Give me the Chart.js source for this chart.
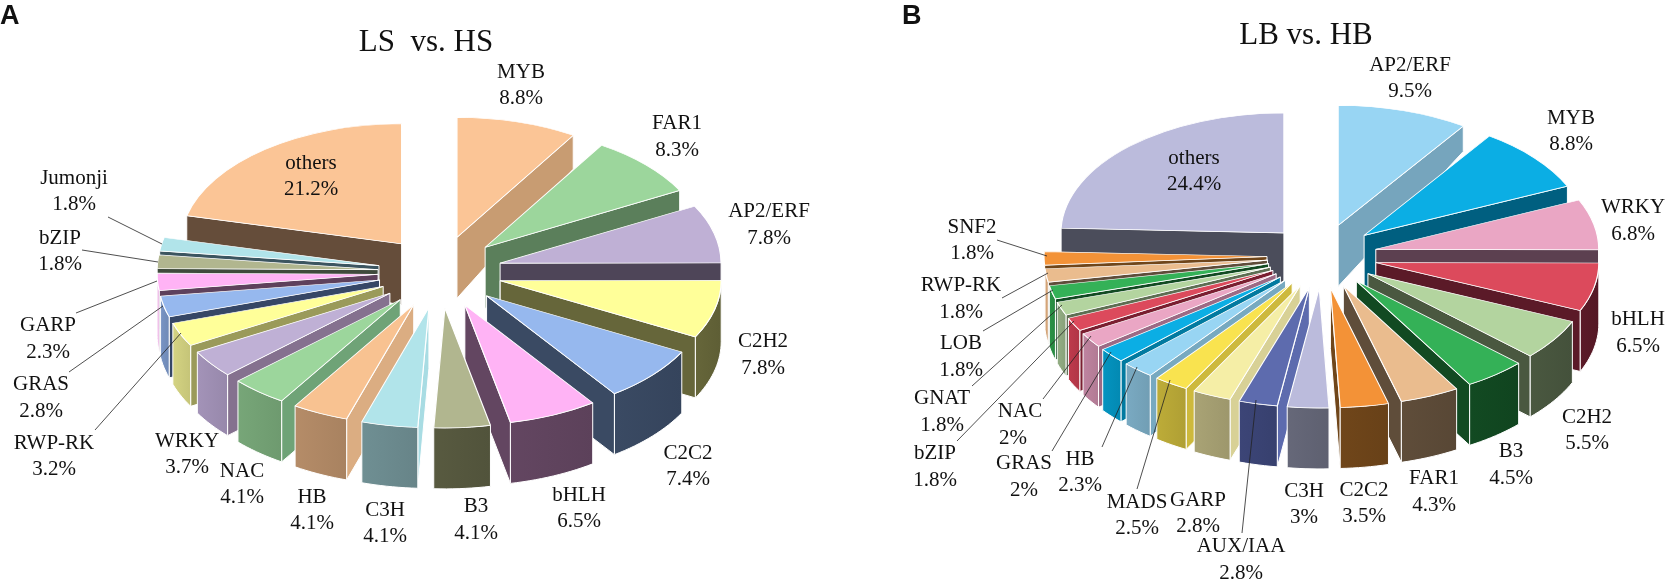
<!DOCTYPE html>
<html><head><meta charset="utf-8">
<script src="https://cdn.jsdelivr.net/npm/chart.js@4/dist/chart.umd.js"></script>
<style>
html,body{margin:0;padding:0;background:#fff;width:1667px;height:580px;overflow:hidden}
canvas{position:absolute;top:0}
#a{left:0}#b{left:834px}
</style></head><body>
<canvas id="a" width="834" height="580"></canvas>
<canvas id="b" width="833" height="580"></canvas>
<script>
// ---- data ----
const categoriesA=['MYB','FAR1','AP2/ERF','C2H2','C2C2','bHLH','B3','C3H','HB','NAC','WRKY','RWP-RK','GRAS','GARP','bZIP','Jumonji','others'];
const valuesA=[8.8,8.3,7.8,7.8,7.4,6.5,4.1,4.1,4.1,4.1,3.7,3.2,2.8,2.3,1.8,1.8,21.2];
const categoriesB=['AP2/ERF','MYB','WRKY','bHLH','C2H2','B3','FAR1','C2C2','C3H','AUX/IAA','GARP','MADS','HB','GRAS','NAC','bZIP','GNAT','LOB','RWP-RK','SNF2','others'];
const valuesB=[9.5,8.8,6.8,6.5,5.5,4.5,4.3,3.5,3,2.8,2.8,2.5,2.3,2,2,1.8,1.8,1.8,1.8,1.8,24.4];

// ---- styles: top face, outer wall, radial wall ----
const topA=['#FBC596','#9CD69C','#BFB0D5','#FFFF99','#96B8EE','#FFB3F5','#B1B68F','#B1E4EA','#F8C291','#9CD69C','#BFB0D5','#FFFF99','#96B8EE','#FFB3F5','#B1B68F','#B1E4EA','#FBC596'];
const outerA=['#C89C72','#5B7F5B','#4E4558','#66663A','#3A4A63','#634661','#585A40','#6F8F93','#B58C68','#77A678','#A393B8','#D4D382','#7894C4','#F2A9E9','#9A9E78','#9CCBD1','#654D3A'];
const sideA=['#C89C72','#5B7F5B','#4E4558','#66663A','#3A4A63','#634661','#4F503A','#A8DCE3','#DBAD82','#6FA377','#85718F','#9A9A5A','#364766','#5E415C','#3F4A3C','#3C5560','#654D3A'];
const topB=['#98D5F3','#0BAEE4','#EAA6C4','#DC4A5C','#B3D49F','#34B157','#EABC8E','#F39237','#BBBBDC','#5D6BAE','#F5EEA6','#F9E34F','#98D5F3','#0BAEE4','#EAA6C4','#DC4A5C','#B3D49F','#34B157','#EABC8E','#F39237','#BBBBDC'];
const outerB=['#76A5BD','#005F80','#5C4050','#5B1A28','#4A5840','#124A22','#5F4D3A','#70461A','#666879','#3C4577','#A9A375','#BDAC38','#7AAAC2','#0494C0','#BF84A0','#BE3A4C','#93AE84','#2A9346','#DCAA7C','#D9822F','#4B4D5B'];
const sideB=['#76A5BD','#005F80','#5C4050','#5B1A28','#4A5840','#124A22','#5F4D3A','#70461A','#666879','#5D6BAE','#D8D196','#CDB93C','#77A9C0','#017AA0','#9C6A85','#7A1E30','#5D6E52','#124A22','#5F4D3A','#70461A','#4B4D5B'];

// ---- text placement (page pixels): [x, y of first line, y of second line, optional x of second line] ----
const placeA=[[521,72,98],[677,123,150],[769,211,238],[763,341,368],[688,453,479],[579,495,521],[476,506,533],[385,510,536],[312,497,523],[242,471,497],[187,441,467],[54,443,469],[41,384,411],[48,325,352],[60,238,264],[74,178,204],[311,163,189]];
const placeB=[[1410,65,91],[1571,118,144],[1633,207,234],[1638,319,346],[1587,417,443],[1511,451,478],[1434,478,505],[1364,490,516],[1304,491,517],[1241,546,573],[1198,500,526],[1137,502,528],[1080,459,485],[1024,463,490],[1020,411,438,1013],[935,453,480],[942,398,425],[961,343,370],[961,285,312],[972,227,253],[1194,158,184]];
const leadersA=[[108,217,162,244],[82,250,158,262],[76,313,157,281],[69,372,163,306],[95,430,181,333]];
const leadersB=[[997,240,1047,256],[1002,298,1048,273],[983,331,1053,290],[972,386,1062,305],[957,441,1074,321],[1043,399,1091,336],[1052,451,1111,352],[1102,447,1137,367],[1137,489,1170,380],[1242,533,1256,400]];

const SERIF='"Liberation Serif","Times New Roman",serif';

function shade(hex,f){const n=parseInt(hex.slice(1),16);return `rgb(${(n>>16&255)*f|0},${(n>>8&255)*f|0},${(n&255)*f|0})`;}

function make3D(cfg){
  const k=cfg.squash, cy=cfg.cy;
  const py=y=>cy+(y-cy)*k;
  const depth=y=>Math.min(cfg.maxDepth,cfg.depth0+cfg.depthSlope*(y-cfg.depthY0));
  return {
    id:'pie3d',
    afterDatasetsUpdate(chart){
      chart.getDatasetMeta(0).data.forEach(a=>{
        const m=(a.startAngle+a.endAngle)/2;
        a.x=cfg.cx+Math.cos(m)*cfg.ringX;
        a.y=cy+Math.sin(m)*cfg.ringY/k;
      });
    },
    beforeDatasetsDraw(chart){
      const ctx=chart.ctx, arcs=chart.getDatasetMeta(0).data.map((a,i)=>({a,i}));
      arcs.sort((p,q)=>Math.sin((q.a.startAngle+q.a.endAngle)/2)<Math.sin((p.a.startAngle+p.a.endAngle)/2)?1:-1);
      ctx.save();ctx.lineWidth=1;ctx.strokeStyle='#fff';ctx.lineJoin='round';
      const wall=(pts,fill)=>{
        ctx.beginPath();
        pts.forEach(([x,y],j)=>{const yy=py(y);j?ctx.lineTo(x,yy):ctx.moveTo(x,yy);});
        const n=pts.length;
        for(let j=n-1;j>=0;j--){const yy=py(pts[j][1]);ctx.lineTo(pts[j][0],yy+depth(yy));}
        ctx.closePath();ctx.fillStyle=fill;ctx.fill();ctx.stroke();
      };
      arcs.forEach(({a,i})=>{
        const R=a.outerRadius, s=a.startAngle, e=a.endAngle, mid=(s+e)/2;
        const pt=t=>[a.x+Math.cos(t)*R,a.y+Math.sin(t)*R];
        const right=Math.cos(mid)>0;
        const edge=right?e:s;
        wall([[a.x,a.y],pt(edge)],cfg.side[i]);
        // curved outer wall: only the part facing the viewer
        const from=Math.max(s,0), to=Math.min(e,Math.PI);
        if(to>from){
          const steps=Math.max(3,Math.ceil((to-from)/0.03)),pts=[];
          for(let j=0;j<=steps;j++)pts.push(pt(from+(to-from)*j/steps));
          const xs=pts.map(p=>p[0]),g=ctx.createLinearGradient(Math.min(...xs),0,Math.max(...xs),0);
          g.addColorStop(0,cfg.outer[i]);g.addColorStop(1,shade(cfg.outer[i],0.93));
          wall(pts,g);
        }
      });
      ctx.restore();
      ctx.save();ctx.translate(0,cy);ctx.scale(1,k);ctx.translate(0,-cy);
    },
    afterDatasetsDraw(chart){chart.ctx.restore();},
    afterDraw(chart){
      const ctx=chart.ctx, ox=cfg.pageLeft;
      ctx.save();ctx.translate(-ox,0);
      ctx.strokeStyle='#222';ctx.lineWidth=0.8;
      cfg.leaders.forEach(l=>{ctx.beginPath();ctx.moveTo(l[0],l[1]);ctx.lineTo(l[2],l[3]);ctx.stroke();});
      ctx.fillStyle='#111';ctx.textAlign='center';ctx.textBaseline='middle';
      ctx.font='21px '+SERIF;
      cfg.names.forEach((n,i)=>{
        const p=cfg.place[i];
        ctx.fillText(n,p[0],p[1]);
        ctx.fillText(cfg.values[i]+'%',p[3]||p[0],p[2]);
      });
      ctx.font='31px '+SERIF;
      ctx.fillText(cfg.title,cfg.titleX,cfg.titleY);
      ctx.font='bold 27px "Liberation Sans",Arial,sans-serif';
      ctx.textAlign='left';
      ctx.fillText(cfg.letter,cfg.letterX,17);
      ctx.restore();
    }
  };
}

function build(id,cfg){
  const w=document.getElementById(id).width,localCx=cfg.cx;
  new Chart(document.getElementById(id),{
    type:'pie',
    data:{labels:cfg.names,datasets:[{data:cfg.values,backgroundColor:cfg.top,borderColor:'#fff',borderWidth:1.2,clip:false}]},
    options:{responsive:false,animation:false,radius:cfg.R,
      layout:{padding:{left:Math.max(0,2*localCx-w),right:Math.max(0,w-2*localCx),bottom:Math.max(0,580-2*cfg.cy),top:Math.max(0,2*cfg.cy-580)}},
      plugins:{legend:{display:false},tooltip:{enabled:false},title:{display:false}},events:[]},
    plugins:[make3D(cfg)]
  });
}

build('a',{names:categoriesA,values:valuesA,top:topA,outer:outerA,side:sideA,place:placeA,leaders:leadersA,
  title:'LS  vs. HS',titleX:426,titleY:43,letter:'A',letterX:0,pageLeft:0,
  cx:440,cy:272,R:221,squash:0.543,ringX:62,ringY:36,maxDepth:61,depth0:34,depthY0:136,depthSlope:0.27});
build('b',{names:categoriesB,values:valuesB,top:topB,outer:outerB,side:sideB,place:placeB,leaders:leadersB,
  title:'LB vs. HB',titleX:1306,titleY:36,letter:'B',letterX:902,pageLeft:834,
  cx:1322-834,cy:256,R:223,squash:0.538,ringX:55,ringY:32,maxDepth:61,depth0:25,depthY0:125,depthSlope:0.36});
</script>
</body></html>
